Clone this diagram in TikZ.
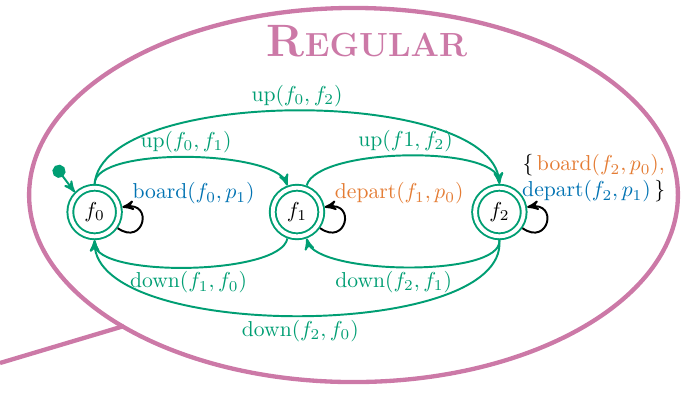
\documentclass[tikz,border=0pt]{standalone}
\usepackage{amsmath}
\usepackage{amssymb}
\usetikzlibrary{matrix,arrows,positioning}

\definecolor{regpink}{RGB}{204,121,167}
\definecolor{autgreen}{RGB}{0,158,115}
\definecolor{actblue}{RGB}{0,114,178}
\definecolor{actorange}{RGB}{228,124,52}

\tikzset{
  floor/.style={circle,draw=autgreen,double,double distance=1.8pt,line width=0.9pt,
    minimum size=22.5pt,inner sep=0pt,outer sep=1.8pt},
  move/.style={draw=autgreen,line width=0.9pt,-stealth',text=autgreen,every node/.append style={inner sep=1.5pt}},
  stay/.style={draw=black,line width=0.9pt,-stealth',looseness=3.8,min distance=2mm},
}

\begin{document}
\begin{tikzpicture}[x=0.463pt,y=-0.463pt]
          \useasboundingbox (0,0) rectangle (690,392);
          % the bubble round the automaton
          \draw[regpink,line width=2pt] (353.5,195) ellipse [x radius=150.2pt,y radius=86.6pt];
          \coordinate (tail) at (0,363);
          \coordinate (tailend) at (124,326);
          \draw[regpink,line width=2pt] (tail) -- (tailend);
          \node[regpink,anchor=base,font=\bfseries] (title) at (367,56)
            {\fontsize{21}{21}\selectfont R\fontsize{15.5}{15.5}\selectfont EGULAR};

          \matrix (m) [matrix of math nodes,nodes={floor},column sep=67.6pt,ampersand replacement=\&] at (297,212)
            {
                f_0 \& f_1 \& f_2 \\
            };
          % start state
          \coordinate (init) at (55,166);
          \draw[draw=autgreen,line width=0.9pt,*-stealth'] (init) -- (m-1-1.135);

          % going up
          \draw[move] (m-1-1.north) to[out=90,in=110,looseness=0.5] node[above] {up($f_0, f_1$)} (m-1-2.110);
          \draw[move] (m-1-1.north) to[out=85,in=95,looseness=0.62] node[above] {up($f_0, f_2$)} (m-1-3.north);
          \draw[move] (m-1-2.70) to[out=75,in=95,looseness=0.52] node[above] {up($f1, f_2$)} (m-1-3.north);
          % going down
          \draw[move] (m-1-2.-110) to[out=-100,in=-90,looseness=0.5] node[below] {down($f_1, f_0$)} (m-1-1.south);
          \draw[move] (m-1-3.south) to[out=-85,in=-75,looseness=0.5] node[below,pos=0.55] {down($f_2, f_1$)} (m-1-2.-70);
          \draw[move] (m-1-3.south) to[out=-85,in=-90,looseness=0.64] node[below] {down($f_2, f_0$)} (m-1-1.south);

          % boarding and leaving
          \draw[stay] (m-1-1) to[out=-35,in=10] (m-1-1);
          \draw[stay] (m-1-2) to[out=-35,in=10] (m-1-2);
          \draw[stay] (m-1-3) to[out=-35,in=10] (m-1-3);
          \node[actblue,above right=0pt and 1pt of m-1-1.east] (b0) {board($f_0,p_1$)};
          \node[actorange,above right=0pt and 1pt of m-1-2.east] (d1) {depart($f_1,p_0$)};
          \node[align=center,above right=1pt and -6pt of m-1-3.east] (bd2)
            {$\{$\,\textcolor{actorange}{board($f_2,p_0$),}\\
             \textcolor{actblue}{depart($f_2,p_1$)}\,$\}$};
\end{tikzpicture}
\end{document}
